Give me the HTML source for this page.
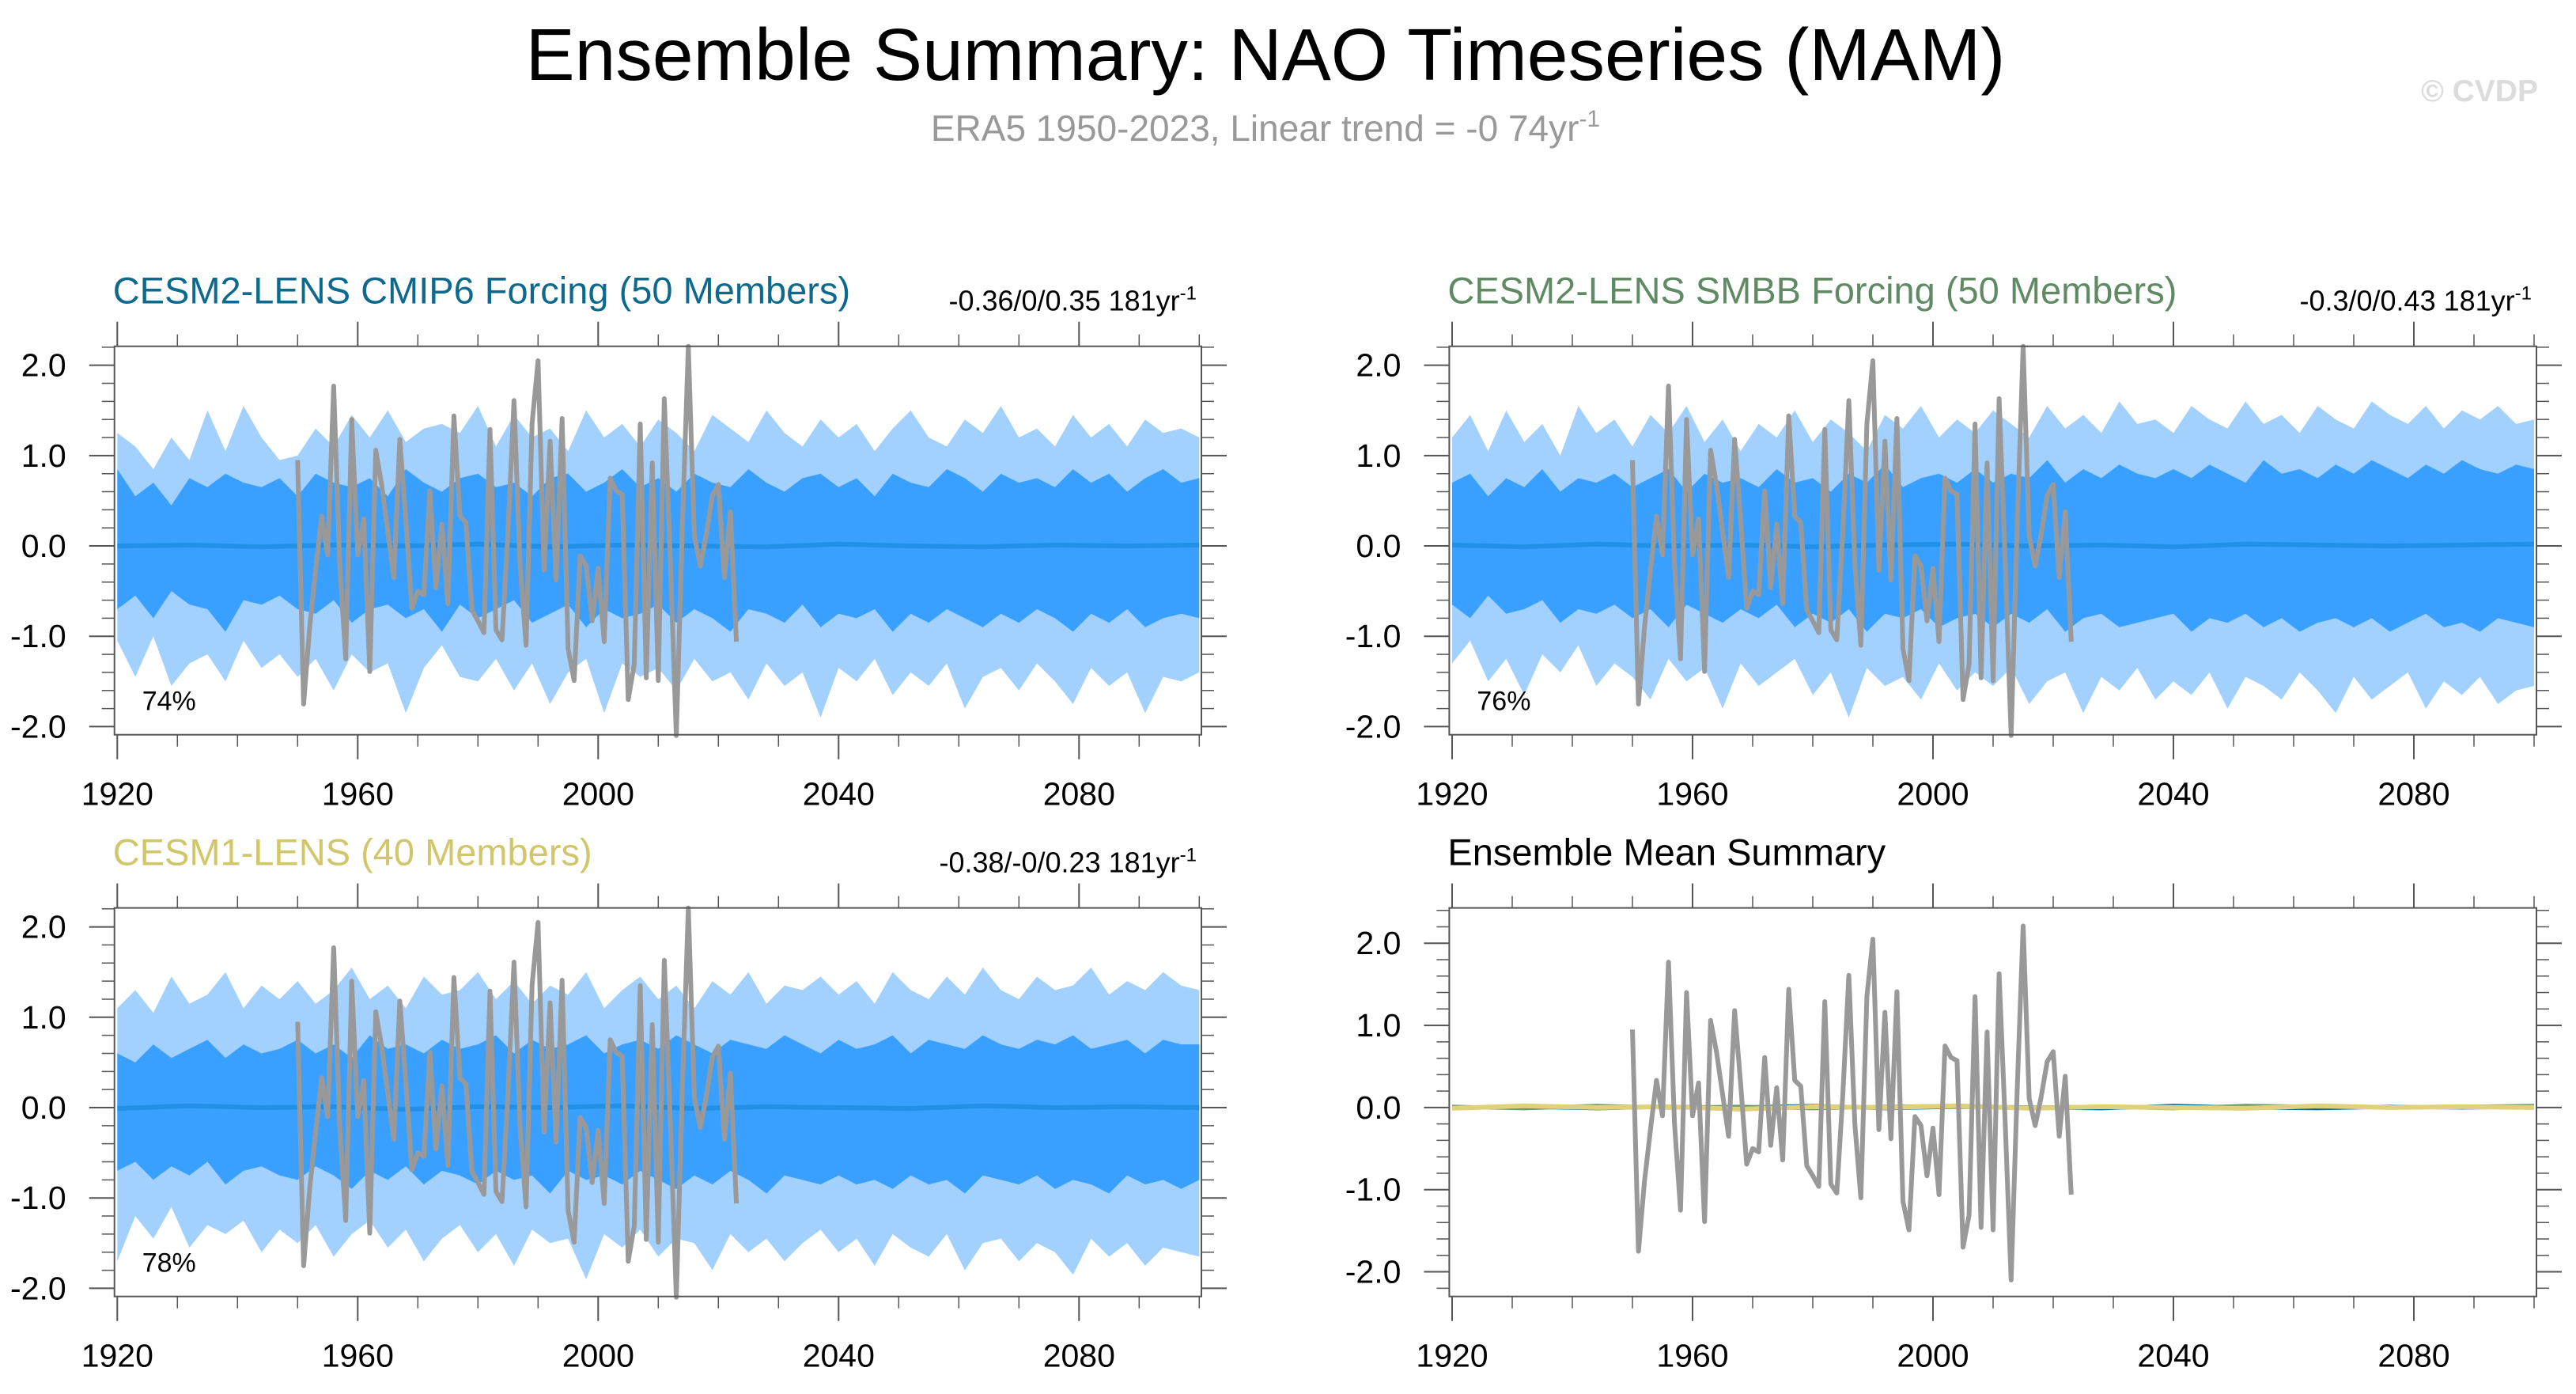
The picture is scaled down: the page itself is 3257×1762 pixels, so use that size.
<!DOCTYPE html>
<html><head><meta charset="utf-8"><style>
html,body{margin:0;padding:0;background:#fff}
svg{display:block}
text{font-family:"Liberation Sans",Arial,sans-serif}
</style></head><body>
<svg id="chart" xmlns="http://www.w3.org/2000/svg" width="3257" height="1762" viewBox="0 0 3257 1762">
<rect x="0" y="0" width="3257" height="1762" fill="#fff"/>
<text x="1600" y="101" font-size="93" text-anchor="middle" fill="#000">Ensemble Summary: NAO Timeseries (MAM)</text>
<text x="1600" y="178" font-size="46" text-anchor="middle" fill="#999">ERA5 1950-2023, Linear trend = -0 74yr<tspan dy="-18" font-size="30">-1</tspan></text>
<text x="3209" y="128" font-size="39" font-weight="bold" text-anchor="end" fill="#dcdcdc">© CVDP</text>
</svg>
<script>
// ---- data ----
const eraStart = 1950;
const eraValues = [0.95,-1.75,-0.9,-0.27,0.33,-0.1,1.77,-0.2,-1.25,1.40,
-0.1,0.3,-1.39,1.06,0.67,0.16,-0.35,1.18,0.29,-0.69,
-0.5,-0.54,0.61,-0.46,0.24,-0.64,1.44,0.33,0.26,-0.71,
-0.83,-0.96,1.29,-0.93,-1.04,0.16,1.61,-0.2,-1.1,1.35,
2.05,-0.27,1.16,-0.38,1.41,-1.14,-1.49,-0.11,-0.22,-0.83,
-0.25,-1.06,0.75,0.61,0.57,-1.7,-1.31,1.35,-1.46,0.92,
-1.49,1.63,-0.16,-2.1,0.2,2.21,0.11,-0.22,0.13,0.56,
0.68,-0.35,0.38,-1.06];
const bandStart = 1920, bandStep = 3;
const p1OuterHi=[1.25,1.10,0.85,1.20,0.95,1.50,1.05,1.55,1.20,0.95,1.00,1.30,1.10,1.45,1.20,1.50,1.15,1.30,1.35,1.25,1.55,1.10,1.45,1.20,1.30,1.05,1.50,1.20,1.35,1.10,1.40,1.25,1.05,1.45,1.30,1.15,1.50,1.25,1.10,1.40,1.20,1.35,1.05,1.30,1.50,1.20,1.10,1.40,1.25,1.55,1.20,1.30,1.10,1.45,1.20,1.35,1.10,1.40,1.25,1.30,1.20];
const p1OuterLo=[-1.05,-1.45,-1.00,-1.55,-1.30,-1.20,-1.50,-1.05,-1.35,-1.20,-1.45,-1.25,-1.60,-1.20,-1.40,-1.30,-1.85,-1.35,-1.10,-1.45,-1.50,-1.25,-1.60,-1.30,-1.75,-1.40,-1.25,-1.85,-1.30,-1.45,-1.35,-1.60,-1.25,-1.50,-1.40,-1.70,-1.30,-1.55,-1.40,-1.90,-1.35,-1.50,-1.25,-1.65,-1.40,-1.55,-1.30,-1.80,-1.45,-1.35,-1.60,-1.30,-1.50,-1.75,-1.35,-1.55,-1.40,-1.85,-1.45,-1.50,-1.40];
const p1InnerHi=[0.85,0.55,0.70,0.45,0.75,0.65,0.80,0.70,0.65,0.75,0.55,0.80,0.70,0.65,0.75,0.55,0.85,0.70,0.60,0.75,0.80,0.65,0.70,0.55,0.75,0.80,0.60,0.70,0.85,0.65,0.75,0.60,0.80,0.70,0.65,0.85,0.70,0.60,0.75,0.80,0.65,0.75,0.55,0.80,0.70,0.65,0.85,0.75,0.60,0.80,0.70,0.75,0.65,0.85,0.70,0.80,0.60,0.75,0.85,0.70,0.75];
const p1InnerLo=[-0.70,-0.55,-0.80,-0.50,-0.65,-0.70,-0.95,-0.60,-0.65,-0.55,-0.70,-0.75,-0.60,-0.85,-0.70,-0.65,-0.80,-0.70,-0.95,-0.65,-0.80,-0.70,-0.60,-0.85,-0.75,-0.65,-0.90,-0.70,-0.80,-0.75,-0.65,-0.85,-0.70,-0.80,-0.95,-0.70,-0.75,-0.85,-0.65,-0.90,-0.75,-0.80,-0.70,-0.95,-0.75,-0.85,-0.70,-0.80,-0.90,-0.75,-0.85,-0.70,-0.80,-0.95,-0.75,-0.85,-0.70,-0.90,-0.80,-0.75,-0.80];
const p2OuterHi=[1.20,1.45,1.05,1.50,1.15,1.35,1.00,1.55,1.25,1.40,1.10,1.45,1.25,1.55,1.15,1.40,1.05,1.35,1.20,1.50,1.15,1.40,1.25,1.05,1.45,1.30,1.55,1.20,1.40,1.25,1.50,1.35,1.20,1.55,1.30,1.45,1.25,1.60,1.35,1.40,1.25,1.55,1.40,1.30,1.60,1.35,1.45,1.25,1.55,1.40,1.30,1.60,1.45,1.35,1.55,1.30,1.50,1.40,1.55,1.35,1.40];
const p2OuterLo=[-1.30,-1.05,-1.50,-1.25,-1.65,-1.20,-1.40,-1.10,-1.55,-1.30,-1.45,-1.70,-1.25,-1.50,-1.35,-1.80,-1.30,-1.55,-1.40,-1.25,-1.65,-1.40,-1.90,-1.35,-1.55,-1.45,-1.70,-1.30,-1.60,-1.40,-1.55,-1.35,-1.75,-1.50,-1.40,-1.85,-1.45,-1.60,-1.35,-1.70,-1.50,-1.65,-1.40,-1.80,-1.45,-1.55,-1.70,-1.40,-1.60,-1.85,-1.45,-1.70,-1.55,-1.40,-1.80,-1.50,-1.65,-1.45,-1.75,-1.60,-1.55];
const p2InnerHi=[0.70,0.80,0.55,0.75,0.65,0.85,0.60,0.75,0.70,0.80,0.65,0.75,0.85,0.60,0.80,0.70,0.75,0.65,0.85,0.70,0.75,0.60,0.80,0.70,0.90,0.65,0.75,0.80,0.70,0.85,0.70,0.80,0.75,0.95,0.70,0.85,0.75,0.90,0.80,0.75,0.85,0.75,0.90,0.80,0.70,0.95,0.80,0.85,0.75,0.90,0.80,0.95,0.85,0.75,0.90,0.80,0.95,0.85,0.80,0.90,0.85];
const p2InnerLo=[-0.65,-0.80,-0.55,-0.75,-0.70,-0.60,-0.85,-0.70,-0.75,-0.65,-0.80,-0.70,-0.90,-0.65,-0.75,-0.85,-0.70,-0.80,-0.65,-0.90,-0.75,-0.85,-0.70,-0.95,-0.75,-0.80,-0.70,-0.90,-0.80,-0.75,-0.90,-0.75,-0.85,-0.70,-0.95,-0.80,-0.75,-0.90,-0.85,-0.80,-0.75,-0.95,-0.80,-0.85,-0.75,-0.90,-0.80,-0.95,-0.85,-0.80,-0.90,-0.80,-0.95,-0.85,-0.75,-0.90,-0.85,-0.95,-0.80,-0.85,-0.90];
const p3OuterHi=[1.10,1.30,1.05,1.45,1.15,1.25,1.50,1.10,1.35,1.20,1.40,1.15,1.30,1.55,1.20,1.35,1.10,1.45,1.25,1.30,1.50,1.20,1.40,1.15,1.35,1.25,1.50,1.10,1.30,1.45,1.20,1.35,1.10,1.40,1.25,1.50,1.15,1.35,1.30,1.45,1.25,1.40,1.15,1.50,1.30,1.20,1.45,1.25,1.55,1.30,1.20,1.45,1.30,1.35,1.55,1.25,1.40,1.30,1.50,1.35,1.30];
const p3OuterLo=[-1.70,-1.20,-1.45,-1.10,-1.55,-1.30,-1.40,-1.25,-1.60,-1.35,-1.50,-1.30,-1.65,-1.40,-1.25,-1.55,-1.35,-1.70,-1.45,-1.30,-1.60,-1.40,-1.75,-1.35,-1.50,-1.45,-1.90,-1.40,-1.55,-1.35,-1.65,-1.45,-1.50,-1.80,-1.40,-1.60,-1.45,-1.70,-1.50,-1.35,-1.60,-1.45,-1.75,-1.40,-1.55,-1.65,-1.40,-1.80,-1.50,-1.45,-1.70,-1.50,-1.60,-1.85,-1.45,-1.65,-1.50,-1.75,-1.55,-1.60,-1.65];
const p3InnerHi=[0.60,0.50,0.70,0.55,0.65,0.75,0.55,0.70,0.60,0.65,0.75,0.60,0.70,0.55,0.80,0.65,0.70,0.60,0.75,0.65,0.70,0.80,0.60,0.75,0.65,0.70,0.80,0.60,0.70,0.75,0.65,0.80,0.70,0.60,0.75,0.70,0.65,0.80,0.70,0.60,0.75,0.65,0.70,0.80,0.60,0.75,0.70,0.65,0.80,0.70,0.65,0.75,0.70,0.80,0.65,0.70,0.75,0.60,0.75,0.70,0.70];
const p3InnerLo=[-0.70,-0.60,-0.80,-0.65,-0.75,-0.60,-0.85,-0.70,-0.65,-0.75,-0.80,-0.65,-0.75,-0.90,-0.70,-0.80,-0.65,-0.85,-0.70,-0.75,-0.85,-0.70,-0.80,-0.75,-0.95,-0.70,-0.80,-0.75,-0.85,-0.70,-0.80,-0.90,-0.75,-0.85,-0.70,-0.80,-0.95,-0.75,-0.80,-0.85,-0.75,-0.85,-0.80,-0.90,-0.75,-0.85,-0.80,-0.95,-0.75,-0.80,-0.85,-0.75,-0.90,-0.80,-0.85,-0.95,-0.75,-0.85,-0.80,-0.90,-0.80];
const meanStart = 1920, meanStep = 12;
const p1Mean=[0.00,0.01,-0.01,0.01,0.00,0.02,-0.01,0.01,0.00,-0.01,0.02,0.00,-0.01,0.01,0.00,0.01];
const p2Mean=[0.01,-0.01,0.02,0.00,0.01,-0.01,0.01,0.02,0.00,0.01,-0.01,0.02,0.01,0.00,0.01,0.02];
const p3Mean=[-0.01,0.02,0.00,0.01,-0.02,0.01,0.00,0.02,-0.01,0.01,0.00,-0.01,0.02,0.00,0.01,0.00];
const xTickLabels=["1920","1960","2000","2040","2080"];
const yTickLabels=["-2.0","-1.0","0.0","1.0","2.0"];

const NS="http://www.w3.org/2000/svg";
const svg=document.getElementById('chart');
function mk(tag,attrs,parent){const e=document.createElementNS(NS,tag);for(const k in attrs)e.setAttribute(k,attrs[k]);(parent||svg).appendChild(e);return e;}

const panels=[
 {id:'cesm2-cmip6',left:144.7,right:1519,top:437.7,bottom:928.7,ymin:-2.09,ymax:2.21,title:'CESM2-LENS CMIP6 Forcing (50 Members)',tcol:'#0d6a8c',trend:'-0.36/0/0.35 181yr',pct:'74%',bands:[p1OuterHi,p1OuterLo,p1InnerHi,p1InnerLo],mean:p1Mean},
 {id:'cesm2-smbb',left:1832.4,right:3207,top:437.7,bottom:928.7,ymin:-2.09,ymax:2.21,title:'CESM2-LENS SMBB Forcing (50 Members)',tcol:'#5f8a63',trend:'-0.3/0/0.43 181yr',pct:'76%',bands:[p2OuterHi,p2OuterLo,p2InnerHi,p2InnerLo],mean:p2Mean},
 {id:'cesm1',left:144.7,right:1519,top:1147.6,bottom:1638.7,ymin:-2.09,ymax:2.21,title:'CESM1-LENS (40 Members)',tcol:'#d2c66a',trend:'-0.38/-0/0.23 181yr',pct:'78%',bands:[p3OuterHi,p3OuterLo,p3InnerHi,p3InnerLo],mean:p3Mean},
 {id:'ensemble-mean',left:1832.4,right:3207,top:1147.6,bottom:1638.7,ymin:-2.30,ymax:2.43,title:'Ensemble Mean Summary',tcol:'#000',trend:null,pct:null,bands:null,mean:null}
];

panels.forEach(p=>{
  const g=mk('g',{});
  
  
  const xs=yr=>p.left+3.6+(yr-1920)*7.6;
  const ys=v=>p.top+(p.ymax-v)/(p.ymax-p.ymin)*(p.bottom-p.top);
  if(p.bands){
    const [oh,ol,ih,il]=p.bands;
    const poly=(hi,lo,col,name)=>{
      let pts=[];
      hi.forEach((v,i)=>pts.push(xs(bandStart+i*bandStep).toFixed(1)+','+ys(v).toFixed(1)));
      for(let i=lo.length-1;i>=0;i--)pts.push(xs(bandStart+i*bandStep).toFixed(1)+','+ys(lo[i]).toFixed(1));
      const e=mk('polygon',{points:pts.join(' '),fill:col},g);
      
      
    };
    poly(oh,ol,'#a2d1ff','outer-spread-band');
    poly(ih,il,'#3aa0ff','inner-spread-band');
    const mp=p.mean.map((v,i)=>xs(meanStart+i*meanStep).toFixed(1)+','+ys(v).toFixed(1)).join(' ');
    const ml=mk('polyline',{points:mp,fill:'none',stroke:'#2290e6','stroke-width':6,'stroke-linejoin':'round'},g);
    
    
  } else {
    const cols=['#0d6a8c','#6a9a6a','#e0d27a'];
    [p1Mean,p2Mean,p3Mean].forEach((arr,k)=>{
      const mp=arr.map((v,i)=>xs(meanStart+i*meanStep).toFixed(1)+','+ys(v).toFixed(1)).join(' ');
      const ml=mk('polyline',{points:mp,fill:'none',stroke:cols[k],'stroke-width':k==2?6:5},g);
      
      
    });
  }
  const ep=eraValues.map((v,i)=>xs(eraStart+i).toFixed(1)+','+ys(v).toFixed(1)).join(' ');
  const el=mk('polyline',{points:ep,fill:'none',stroke:'#999','stroke-width':6,'stroke-linejoin':'round'},g);
  
  
  const fr=mk('rect',{x:p.left,y:p.top,width:p.right-p.left,height:p.bottom-p.top,fill:'none',stroke:'#555','stroke-width':2},g);
  
  
  for(let yr=1920;yr<=2100;yr+=10){
    const x=xs(yr), maj=(yr-1920)%40===0, L=maj?31:15;
    mk('line',{x1:x,y1:p.top,x2:x,y2:p.top-L,stroke:'#555','stroke-width':maj?2:1.5},g);
    mk('line',{x1:x,y1:p.bottom,x2:x,y2:p.bottom+L,stroke:'#555','stroke-width':maj?2:1.5},g);
  }
  xTickLabels.forEach(lbl=>{
    const t=mk('text',{x:xs(+lbl),y:p.bottom+89,'font-size':41,'text-anchor':'middle',fill:'#000'},g);
    t.textContent=lbl;
    
    
  });
  for(let k=-11;k<=12;k++){
    const v=k*0.2; if(v<p.ymin||v>p.ymax)continue;
    const y=ys(v), maj=k%5===0, L=maj?32:16;
    mk('line',{x1:p.left,y1:y,x2:p.left-L,y2:y,stroke:'#555','stroke-width':maj?2:1.5},g);
    mk('line',{x1:p.right,y1:y,x2:p.right+L,y2:y,stroke:'#555','stroke-width':maj?2:1.5},g);
  }
  yTickLabels.forEach(lbl=>{
    const t=mk('text',{x:p.left-61,y:ys(+lbl)+14,'font-size':41,'text-anchor':'end',fill:'#000'},g);
    t.textContent=lbl;
    
    
  });
  const tt=mk('text',{x:p.left-2,y:p.top-54,'font-size':47,fill:p.tcol},g);
  tt.textContent=p.title;
  
  
  if(p.trend){
    const tr=mk('text',{x:p.right-6,y:p.top-45,'font-size':36,'text-anchor':'end',fill:'#000'},g);
    tr.textContent=p.trend;
    const sp=mk('tspan',{dy:-14,'font-size':24},tr);
    sp.textContent='-1';
    
    
    const pc=mk('text',{x:p.left+35,y:p.bottom-31,'font-size':34,fill:'#000'},g);
    pc.textContent=p.pct;
    
    
  }
});
</script>
</body></html>
